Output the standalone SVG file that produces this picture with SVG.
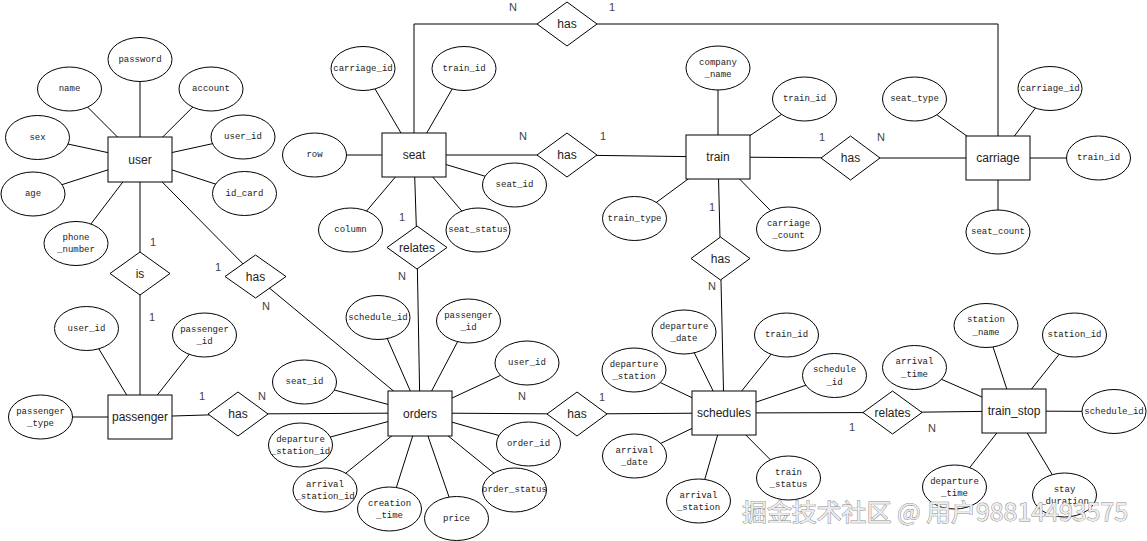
<svg xmlns="http://www.w3.org/2000/svg" width="1147" height="541" viewBox="0 0 1147 541">
<style>
  .bg{fill:#fff}
  .ln{stroke:#000;stroke-width:1;fill:none}
  .ent rect{fill:#fff;stroke:#000;stroke-width:1}
  .rel polygon{fill:#fff;stroke:#000;stroke-width:1}
  .att ellipse{fill:#fff;stroke:#000;stroke-width:1}
  .et{font-family:"Liberation Sans",Arial,sans-serif;font-size:12px;fill:#222;text-anchor:middle;dominant-baseline:central}
  .at{font-family:"Liberation Mono","Courier New",monospace;font-size:9px;fill:#222;text-anchor:middle;dominant-baseline:central}
  .card{font-family:"Liberation Sans",Arial,sans-serif;font-size:11px;fill:#444;text-anchor:middle;dominant-baseline:central}
  .wm{font-family:"Noto Sans CJK SC","Liberation Sans",sans-serif;font-size:24px;fill:#ededed;stroke:#8a8a8a;stroke-width:0.9;paint-order:stroke;dominant-baseline:central}
</style>
<rect class="bg" x="0" y="0" width="1147" height="541"/>

<g id="connectors" class="ln">
  <!-- user attributes -->
  <line x1="140" y1="59.5" x2="140" y2="159.5"/>
  <line x1="69.5" y1="89" x2="140" y2="159.5"/>
  <line x1="211" y1="89" x2="140" y2="159.5"/>
  <line x1="37.5" y1="137.5" x2="140" y2="159.5"/>
  <line x1="243" y1="137" x2="140" y2="159.5"/>
  <line x1="33" y1="194" x2="140" y2="159.5"/>
  <line x1="244.5" y1="193.5" x2="140" y2="159.5"/>
  <line x1="76" y1="243.5" x2="140" y2="159.5"/>
  <!-- passenger attributes -->
  <line x1="86.5" y1="328.5" x2="140" y2="417"/>
  <line x1="204.5" y1="335" x2="140" y2="417"/>
  <line x1="40.5" y1="417" x2="140" y2="417"/>
  <!-- seat attributes -->
  <line x1="363" y1="68.5" x2="414" y2="155"/>
  <line x1="464" y1="68.5" x2="414" y2="155"/>
  <line x1="314.5" y1="155" x2="414" y2="155"/>
  <line x1="514.5" y1="185" x2="414" y2="155"/>
  <line x1="350.5" y1="230" x2="414" y2="155"/>
  <line x1="478" y1="230" x2="414" y2="155"/>
  <!-- train attributes -->
  <line x1="718" y1="68" x2="718" y2="157"/>
  <line x1="804.5" y1="99" x2="718" y2="157"/>
  <line x1="634.5" y1="218.5" x2="718" y2="157"/>
  <line x1="788.5" y1="229" x2="718" y2="157"/>
  <!-- carriage attributes -->
  <line x1="914.5" y1="99" x2="998" y2="158"/>
  <line x1="1050" y1="88.5" x2="998" y2="158"/>
  <line x1="1098.5" y1="158" x2="998" y2="158"/>
  <line x1="998" y1="232" x2="998" y2="158"/>
  <!-- orders attributes -->
  <line x1="378" y1="317.5" x2="420" y2="413"/>
  <line x1="468.5" y1="321" x2="420" y2="413"/>
  <line x1="527" y1="363" x2="420" y2="413"/>
  <line x1="304.5" y1="382" x2="420" y2="413"/>
  <line x1="528.5" y1="444" x2="420" y2="413"/>
  <line x1="300.5" y1="445" x2="420" y2="413"/>
  <line x1="325" y1="490" x2="420" y2="413"/>
  <line x1="514.5" y1="490" x2="420" y2="413"/>
  <line x1="389.5" y1="509" x2="420" y2="413"/>
  <line x1="456.5" y1="518.5" x2="420" y2="413"/>
  <!-- schedules attributes -->
  <line x1="684" y1="332" x2="724" y2="413"/>
  <line x1="786.5" y1="335" x2="724" y2="413"/>
  <line x1="634" y1="370" x2="724" y2="413"/>
  <line x1="834.5" y1="375.5" x2="724" y2="413"/>
  <line x1="634.5" y1="456" x2="724" y2="413"/>
  <line x1="788.5" y1="478" x2="724" y2="413"/>
  <line x1="698.5" y1="501" x2="724" y2="413"/>
  <!-- train_stop attributes -->
  <line x1="986" y1="325.5" x2="1014" y2="411"/>
  <line x1="1074.5" y1="335" x2="1014" y2="411"/>
  <line x1="914.5" y1="367.5" x2="1014" y2="411"/>
  <line x1="1114" y1="411.5" x2="1014" y2="411"/>
  <line x1="954.5" y1="487" x2="1014" y2="411"/>
  <line x1="1064.5" y1="495" x2="1014" y2="411"/>
  <!-- relationships -->
  <polyline points="414,155 414,24 998,24 998,158"/>
  <polyline points="414,155 567,155 718,157"/>
  <polyline points="718,157 850.5,158 998,158"/>
  <polyline points="718,157 720.5,258.5 724,413"/>
  <polyline points="414,155 417,247.5 420,413"/>
  <polyline points="140,159.5 140,273.5 140,417"/>
  <polyline points="140,159.5 255.5,276.5 420,413"/>
  <polyline points="140,417 238,414 420,413"/>
  <polyline points="420,413 577,414 724,413"/>
  <polyline points="724,413 892.5,412.5 1014,411"/>
</g>

<!-- cardinalities -->
<g id="cardinalities">
  <text class="card" x="513" y="7">N</text>
  <text class="card" x="612" y="7">1</text>
  <text class="card" x="523" y="136">N</text>
  <text class="card" x="603" y="136">1</text>
  <text class="card" x="822" y="137">1</text>
  <text class="card" x="881" y="137">N</text>
  <text class="card" x="712" y="207">1</text>
  <text class="card" x="712" y="286">N</text>
  <text class="card" x="402" y="217">1</text>
  <text class="card" x="402" y="276">N</text>
  <text class="card" x="153" y="242">1</text>
  <text class="card" x="152" y="317">1</text>
  <text class="card" x="218" y="267">1</text>
  <text class="card" x="266" y="306">N</text>
  <text class="card" x="202" y="396">1</text>
  <text class="card" x="262" y="396">N</text>
  <text class="card" x="522" y="396">N</text>
  <text class="card" x="602" y="397">1</text>
  <text class="card" x="852" y="427">1</text>
  <text class="card" x="932" y="428">N</text>
</g>

<!-- relationships -->
<g id="rel-carriage-seat" class="rel"><polygon points="537,24 567,2 597,24 567,46"/><text class="et" x="567" y="24">has</text></g>
<g id="rel-train-seat" class="rel"><polygon points="537,155 567,133 597,155 567,177"/><text class="et" x="567" y="155">has</text></g>
<g id="rel-train-carriage" class="rel"><polygon points="821,158 850.5,136 880,158 850.5,180"/><text class="et" x="850.5" y="158">has</text></g>
<g id="rel-train-schedules" class="rel"><polygon points="691,258.5 720.5,237 750,258.5 720.5,280"/><text class="et" x="720.5" y="258.5">has</text></g>
<g id="rel-seat-orders" class="rel"><polygon points="387,247.5 417,226 447,247.5 417,269"/><text class="et" x="417" y="247.5">relates</text></g>
<g id="rel-user-passenger" class="rel"><polygon points="110,273.5 140,252 170,273.5 140,295"/><text class="et" x="140" y="273.5">is</text></g>
<g id="rel-user-orders" class="rel"><polygon points="225,276.5 255.5,255 286,276.5 255.5,298"/><text class="et" x="255.5" y="276.5">has</text></g>
<g id="rel-passenger-orders" class="rel"><polygon points="208,414 238,392 268,414 238,436"/><text class="et" x="238" y="414">has</text></g>
<g id="rel-orders-schedules" class="rel"><polygon points="547,414 577,392 607,414 577,436"/><text class="et" x="577" y="414">has</text></g>
<g id="rel-schedules-train_stop" class="rel"><polygon points="863,412.5 892.5,391 922,412.5 892.5,434"/><text class="et" x="892.5" y="412.5">relates</text></g>

<!-- entities -->
<g id="user" class="ent"><rect x="108" y="137" width="64" height="45"/><text class="et" x="140" y="159.5">user</text></g>
<g id="seat" class="ent"><rect x="382" y="133" width="64" height="44"/><text class="et" x="414" y="155">seat</text></g>
<g id="train" class="ent"><rect x="686" y="135" width="64" height="44"/><text class="et" x="718" y="157">train</text></g>
<g id="carriage" class="ent"><rect x="966" y="136" width="64" height="44"/><text class="et" x="998" y="158">carriage</text></g>
<g id="passenger" class="ent"><rect x="108" y="395" width="64" height="44"/><text class="et" x="140" y="417">passenger</text></g>
<g id="orders" class="ent"><rect x="388" y="391" width="64" height="45"/><text class="et" x="420" y="413.5">orders</text></g>
<g id="schedules" class="ent"><rect x="692" y="391" width="64" height="44"/><text class="et" x="724" y="413">schedules</text></g>
<g id="train_stop" class="ent"><rect x="982" y="389" width="64" height="44"/><text class="et" x="1014" y="411">train_stop</text></g>

<!-- attributes -->
<g id="user-password" class="att"><ellipse cx="140" cy="59.5" rx="32" ry="22"/><text class="at" x="140" y="59.5">password</text></g>
<g id="user-name" class="att"><ellipse cx="69.5" cy="89" rx="32" ry="22"/><text class="at" x="69.5" y="89">name</text></g>
<g id="user-account" class="att"><ellipse cx="211" cy="89" rx="32" ry="22"/><text class="at" x="211" y="89">account</text></g>
<g id="user-sex" class="att"><ellipse cx="37.5" cy="137.5" rx="32" ry="22"/><text class="at" x="37.5" y="137.5">sex</text></g>
<g id="user-user_id" class="att"><ellipse cx="243" cy="137" rx="32" ry="22"/><text class="at" x="243" y="137">user_id</text></g>
<g id="user-age" class="att"><ellipse cx="33" cy="194" rx="32" ry="22"/><text class="at" x="33" y="194">age</text></g>
<g id="user-id_card" class="att"><ellipse cx="244.5" cy="193.5" rx="32" ry="22"/><text class="at" x="244.5" y="193.5">id_card</text></g>
<g id="user-phone_number" class="att"><ellipse cx="76" cy="243.5" rx="32" ry="22"/><text class="at" x="76" y="237.5">phone</text><text class="at" x="76" y="250">_number</text></g>

<g id="passenger-user_id" class="att"><ellipse cx="86.5" cy="328.5" rx="32" ry="22"/><text class="at" x="86.5" y="328.5">user_id</text></g>
<g id="passenger-passenger_id" class="att"><ellipse cx="204.5" cy="335" rx="32" ry="22"/><text class="at" x="204.5" y="329.5">passenger</text><text class="at" x="204.5" y="342">_id</text></g>
<g id="passenger-passenger_type" class="att"><ellipse cx="40.5" cy="417" rx="32" ry="22"/><text class="at" x="40.5" y="411.5">passenger</text><text class="at" x="40.5" y="424">_type</text></g>

<g id="seat-carriage_id" class="att"><ellipse cx="363" cy="68.5" rx="32" ry="22"/><text class="at" x="363" y="68.5">carriage_id</text></g>
<g id="seat-train_id" class="att"><ellipse cx="464" cy="68.5" rx="32" ry="22"/><text class="at" x="464" y="68.5">train_id</text></g>
<g id="seat-row" class="att"><ellipse cx="314.5" cy="155" rx="32" ry="22"/><text class="at" x="314.5" y="155">row</text></g>
<g id="seat-seat_id" class="att"><ellipse cx="514.5" cy="185" rx="32" ry="22"/><text class="at" x="514.5" y="185">seat_id</text></g>
<g id="seat-column" class="att"><ellipse cx="350.5" cy="230" rx="32" ry="22"/><text class="at" x="350.5" y="230">column</text></g>
<g id="seat-seat_status" class="att"><ellipse cx="478" cy="230" rx="32" ry="22"/><text class="at" x="478" y="230">seat_status</text></g>

<g id="train-company_name" class="att"><ellipse cx="718" cy="68" rx="32" ry="22"/><text class="at" x="718" y="62.5">company</text><text class="at" x="718" y="75">_name</text></g>
<g id="train-train_id" class="att"><ellipse cx="804.5" cy="99" rx="32" ry="22"/><text class="at" x="804.5" y="99">train_id</text></g>
<g id="train-train_type" class="att"><ellipse cx="634.5" cy="218.5" rx="32" ry="22"/><text class="at" x="634.5" y="218.5">train_type</text></g>
<g id="train-carriage_count" class="att"><ellipse cx="788.5" cy="229" rx="32" ry="22"/><text class="at" x="788.5" y="223.5">carriage</text><text class="at" x="788.5" y="236">_count</text></g>

<g id="carriage-seat_type" class="att"><ellipse cx="914.5" cy="99" rx="32" ry="22"/><text class="at" x="914.5" y="99">seat_type</text></g>
<g id="carriage-carriage_id" class="att"><ellipse cx="1050" cy="88.5" rx="32" ry="22"/><text class="at" x="1050" y="88.5">carriage_id</text></g>
<g id="carriage-train_id" class="att"><ellipse cx="1098.5" cy="158" rx="32" ry="22"/><text class="at" x="1098.5" y="158">train_id</text></g>
<g id="carriage-seat_count" class="att"><ellipse cx="998" cy="232" rx="32" ry="22"/><text class="at" x="998" y="232">seat_count</text></g>

<g id="orders-schedule_id" class="att"><ellipse cx="378" cy="317.5" rx="32" ry="22"/><text class="at" x="378" y="317.5">schedule_id</text></g>
<g id="orders-passenger_id" class="att"><ellipse cx="468.5" cy="321" rx="32" ry="22"/><text class="at" x="468.5" y="315.5">passenger</text><text class="at" x="468.5" y="328">_id</text></g>
<g id="orders-user_id" class="att"><ellipse cx="527" cy="363" rx="32" ry="22"/><text class="at" x="527" y="363">user_id</text></g>
<g id="orders-seat_id" class="att"><ellipse cx="304.5" cy="382" rx="32" ry="22"/><text class="at" x="304.5" y="382">seat_id</text></g>
<g id="orders-order_id" class="att"><ellipse cx="528.5" cy="444" rx="32" ry="22"/><text class="at" x="528.5" y="444">order_id</text></g>
<g id="orders-departure_station_id" class="att"><ellipse cx="300.5" cy="445" rx="32" ry="22"/><text class="at" x="300.5" y="439.5">departure</text><text class="at" x="300.5" y="452">_station_id</text></g>
<g id="orders-arrival_station_id" class="att"><ellipse cx="325" cy="490" rx="32" ry="22"/><text class="at" x="325" y="484.5">arrival</text><text class="at" x="325" y="497">_station_id</text></g>
<g id="orders-order_status" class="att"><ellipse cx="514.5" cy="490" rx="32" ry="22"/><text class="at" x="514.5" y="490">order_status</text></g>
<g id="orders-creation_time" class="att"><ellipse cx="389.5" cy="509" rx="32" ry="22"/><text class="at" x="389.5" y="503.5">creation</text><text class="at" x="389.5" y="516">_time</text></g>
<g id="orders-price" class="att"><ellipse cx="456.5" cy="518.5" rx="32" ry="22"/><text class="at" x="456.5" y="518.5">price</text></g>

<g id="schedules-departure_date" class="att"><ellipse cx="684" cy="332" rx="32" ry="22"/><text class="at" x="684" y="326.5">departure</text><text class="at" x="684" y="339">_date</text></g>
<g id="schedules-train_id" class="att"><ellipse cx="786.5" cy="335" rx="32" ry="22"/><text class="at" x="786.5" y="335">train_id</text></g>
<g id="schedules-departure_station" class="att"><ellipse cx="634" cy="370" rx="32" ry="22"/><text class="at" x="634" y="364.5">departure</text><text class="at" x="634" y="377">_station</text></g>
<g id="schedules-schedule_id" class="att"><ellipse cx="834.5" cy="375.5" rx="32" ry="22"/><text class="at" x="834.5" y="370">schedule</text><text class="at" x="834.5" y="382.5">_id</text></g>
<g id="schedules-arrival_date" class="att"><ellipse cx="634.5" cy="456" rx="32" ry="22"/><text class="at" x="634.5" y="450.5">arrival</text><text class="at" x="634.5" y="463">_date</text></g>
<g id="schedules-train_status" class="att"><ellipse cx="788.5" cy="478" rx="32" ry="22"/><text class="at" x="788.5" y="472.5">train</text><text class="at" x="788.5" y="485">_status</text></g>
<g id="schedules-arrival_station" class="att"><ellipse cx="698.5" cy="501" rx="32" ry="22"/><text class="at" x="698.5" y="495.5">arrival</text><text class="at" x="698.5" y="508">_station</text></g>

<g id="train_stop-station_name" class="att"><ellipse cx="986" cy="325.5" rx="32" ry="22"/><text class="at" x="986" y="320">station</text><text class="at" x="986" y="332.5">_name</text></g>
<g id="train_stop-station_id" class="att"><ellipse cx="1074.5" cy="335" rx="32" ry="22"/><text class="at" x="1074.5" y="335">station_id</text></g>
<g id="train_stop-arrival_time" class="att"><ellipse cx="914.5" cy="367.5" rx="32" ry="22"/><text class="at" x="914.5" y="362">arrival</text><text class="at" x="914.5" y="374.5">_time</text></g>
<g id="train_stop-schedule_id" class="att"><ellipse cx="1114" cy="411.5" rx="32" ry="22"/><text class="at" x="1114" y="411.5">schedule_id</text></g>
<g id="train_stop-departure_time" class="att"><ellipse cx="954.5" cy="487" rx="32" ry="22"/><text class="at" x="954.5" y="481.5">departure</text><text class="at" x="954.5" y="494">_time</text></g>
<g id="train_stop-stay_duration" class="att"><ellipse cx="1064.5" cy="495" rx="32" ry="22"/><text class="at" x="1064.5" y="489.5">stay</text><text class="at" x="1064.5" y="502">_duration</text></g>

<text class="wm" x="742" y="510" textLength="386" lengthAdjust="spacingAndGlyphs">掘金技术社区 @ 用户98814493575</text>
</svg>
